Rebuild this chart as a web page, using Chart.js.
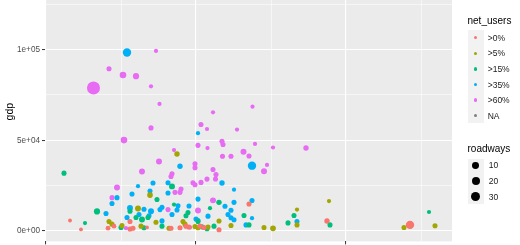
<!DOCTYPE html>
<html>
<head>
<meta charset="utf-8">
<script src="https://cdn.jsdelivr.net/npm/chart.js@4.4.0/dist/chart.umd.min.js"></script>
<style>
  html, body { margin:0; padding:0; width:520px; height:245px; overflow:hidden; background:#fff;
    font-family:"Liberation Sans", Arial, sans-serif; }
  #wrap { position:absolute; left:0; top:-24.9px; width:520px; height:300px; }
  .txt { position:absolute; white-space:nowrap; }
  .ttl { font-size:10px; color:#000; height:12px; line-height:12px; }
  .lab { font-size:8.5px; color:#1a1a1a; height:10px; line-height:10px; }
  .key { position:absolute; background:#f2f2f2; }
  .dot { position:absolute; border-radius:50%; }
</style>
</head>
<body>
<div id="wrap"><canvas id="c" width="520" height="300"></canvas></div>
<div id="legend"></div>
<script>
// net_users groups
const netUsers = ['>0%', '>5%', '>15%', '>35%', '>60%', 'NA'];
const netColors = ['#F8766D', '#A3A500', '#00BF7D', '#00B0F6', '#E76BF3', '#7F7F7F'];
const roadBreaks = [10, 20, 30];

// axis breaks (major + minor grid)
const yBreaks = [0, 50000, 100000];
const yLabels = ['0e+00', '5e+04', '1e+05'];
const yMinor = [25000, 75000, 125000];
const xBreaks = [0, 150, 300];
const xMinor = [75, 225, 375];

// >0%
const x0 = [24, 35, 62, 68, 84, 84, 87, 101, 125, 134, 140, 143, 154, 158, 173, 203, 281, 364];
const gdp0 = [5800, 900, 1600, 2700, 5300, 1100, 1500, 2000, 1500, 1800, 2600, 2200, 2700, 2000, 700, 14900, 5500, 3400];
const road0 = [0.5, 0.5, 2, 2, 3, 3, 3, 0.5, 3, 3, 3, 3, 3, 3, 3, 3, 4, 20];

// >5%
const x5 = [63, 66, 76, 92, 95, 104, 110, 123, 131, 137, 139, 149, 152, 162, 173, 185, 218, 227, 251, 251, 283, 358, 389];
const gdp5 = [5300, 3800, 3000, 12400, 2700, 19800, 4800, 1500, 42400, 5300, 3800, 2500, 1800, 2200, 5500, 3100, 2000, 1500, 11800, 3400, 16500, 2000, 2900];
const road5 = [3, 3, 3, 6, 3, 5, 3, 3, 4, 3, 3, 3, 3, 3, 3, 3, 3, 5, 1, 3, 1, 3, 3];

// >15%
const x15 = [18, 39, 51, 75, 84, 90, 96, 98, 102, 111, 116, 126, 128, 140, 142, 152, 156, 161, 164, 168, 173, 198, 203, 242, 248, 284, 383];
const gdp15 = [31900, 4400, 10800, 2000, 10900, 7500, 6400, 1800, 7500, 17400, 2700, 24600, 14600, 8400, 10200, 5300, 2300, 1300, 12600, 2700, 15800, 8600, 3400, 4500, 8600, 3400, 10500];
const road15 = [3, 1, 7, 3, 3, 3, 6, 3, 3, 3, 3, 6, 1, 3, 3, 3, 3, 3, 1, 3, 4, 3, 3, 3, 3, 3, 1];

// >35%
const x35 = [81, 152, 206, 134, 107, 122, 176, 92, 86, 104, 122, 188, 71, 66, 152, 188, 206, 132, 131, 143, 116, 114, 179, 185, 84, 98, 105, 60, 81, 93, 103, 116, 126, 150, 152, 162, 182, 185, 188, 200, 206, 251];
const gdp35 = [98300, 53900, 36000, 35700, 26500, 26600, 26500, 24700, 20400, 22000, 21000, 22800, 18400, 15200, 17600, 15800, 16800, 13900, 11600, 13800, 13100, 11800, 13700, 11500, 12700, 12000, 10900, 9700, 7500, 9100, 8400, 5600, 9100, 6600, 5800, 8200, 9100, 7300, 6200, 3400, 7100, 5300];
const road35 = [20, 1, 20, 4, 3, 3, 4, 1, 3, 3, 3, 1, 3, 3, 3, 3, 3, 3, 3, 3, 3, 3, 3, 3, 6, 3, 6, 3, 3, 3, 3, 3, 3, 3, 3, 3, 3, 3, 3, 3, 1, 3];

// >60%
const x60 = [63, 77, 90, 47.5, 105, 110, 113.5, 105, 78, 128, 167, 206.5, 155, 161, 191, 176, 177, 152, 161.5, 209, 197.5, 227, 260, 176.5, 185, 203, 221, 218, 113, 149, 149, 96, 167, 170, 169.5, 161, 126, 125, 147, 149, 155, 71, 66, 135, 134, 129, 167, 122, 152, 80, 144];
const gdp60 = [89400, 85900, 85300, 78800, 79700, 99200, 70000, 56800, 50100, 44600, 65400, 68500, 58700, 56200, 55900, 49500, 47700, 47200, 45700, 48000, 43700, 46000, 45700, 41200, 41200, 41300, 36400, 32900, 38300, 37000, 34900, 32800, 33900, 31100, 28700, 28600, 31500, 30000, 26600, 25500, 26800, 24000, 18400, 23100, 21300, 21300, 16900, 11800, 11300, 1600, 2000];
const road60 = [3, 9, 7, 70, 1, 1, 1, 3, 9, 1, 1, 1, 3, 1, 1, 3, 3, 3, 1, 1, 6, 1, 4, 3, 3, 3, 1, 6, 6, 3, 3, 6, 3, 3, 3, 3, 3, 3, 3, 3, 3, 6, 3, 3, 3, 3, 6, 3, 6, 1, 1];

const groups = [[x0, gdp0, road0], [x5, gdp5, road5], [x15, gdp15, road15], [x35, gdp35, road35], [x60, gdp60, road60]];

// area-ish size scale for roadways
const sizeOf = v => 1.5 + 0.6 * Math.sqrt(v);

const datasets = groups.map((g, i) => ({
  label: netUsers[i],
  data: g[0].map((x, j) => ({ x: x, y: g[1][j], road: g[2][j] })),
  backgroundColor: netColors[i],
  borderWidth: 0,
  pointRadius: ctx => ctx.raw ? sizeOf(ctx.raw.road) : 2,
  pointHoverRadius: ctx => ctx.raw ? sizeOf(ctx.raw.road) : 2
}));

const panelBg = {
  id: 'panelBg',
  beforeDraw(chart) {
    const a = chart.chartArea, ctx = chart.ctx;
    ctx.save();
    ctx.fillStyle = '#EBEBEB';
    ctx.fillRect(a.left, a.top, a.right - a.left, a.bottom - a.top);
    ctx.restore();
  }
};

const isMajorX = v => xBreaks.includes(v);
const isMajorY = v => yBreaks.includes(v);
const setTicks = list => s => { s.ticks = list.slice().sort((a, b) => a - b).map(v => ({ value: v })); };

new Chart(document.getElementById('c'), {
  type: 'scatter',
  data: { datasets },
  plugins: [panelBg],
  options: {
    responsive: false,
    animation: false,
    events: [],
    layout: { padding: { left: 0, right: 68, top: 0, bottom: 0 } },
    plugins: { legend: { display: false }, tooltip: { enabled: false } },
    scales: {
      x: {
        type: 'linear', min: -1, max: 406,
        afterBuildTicks: setTicks(xBreaks.concat(xMinor)),
        afterFit: s => { s.height = 33.6; },
        border: { display: false },
        grid: {
          color: '#FFFFFF',
          lineWidth: c => isMajorX(c.tick.value) ? 1.1 : 0.55,
          tickLength: 3, tickWidth: 1,
          tickColor: c => isMajorX(c.tick.value) ? '#333333' : 'rgba(0,0,0,0)'
        },
        ticks: { callback: () => '', font: { size: 8 } }
      },
      y: {
        type: 'linear', min: -5700, max: 137200,
        afterBuildTicks: setTicks(yBreaks.concat(yMinor)),
        afterFit: s => { s.width = 45; },
        border: { display: false },
        grid: {
          color: '#FFFFFF',
          lineWidth: c => isMajorY(c.tick.value) ? 1.1 : 0.55,
          tickLength: 3, tickWidth: 1,
          tickColor: c => isMajorY(c.tick.value) ? '#333333' : 'rgba(0,0,0,0)'
        },
        ticks: {
          padding: 2,
          color: '#4D4D4D',
          font: { family: '"Liberation Sans", Arial, sans-serif', size: 8.2 },
          callback: v => { const k = yBreaks.indexOf(v); return k >= 0 ? yLabels[k] : ''; }
        },
        title: {
          display: true, text: 'gdp', color: '#000',
          font: { family: '"Liberation Sans", Arial, sans-serif', size: 10.5 },
          padding: { top: 4, bottom: 0 }
        }
      }
    }
  }
});

// legend, built in html
const lg = document.getElementById('legend');
function add(cls, css, text) {
  const d = document.createElement('div');
  d.className = cls;
  Object.assign(d.style, css);
  if (text !== undefined) d.textContent = text;
  lg.appendChild(d);
}
add('txt ttl', { left: '467.5px', top: '15px' }, 'net_users');
add('key', { left: '468px', top: '29.5px', width: '15.5px', height: (netUsers.length * 15.6) + 'px' });
netUsers.forEach((n, i) => {
  const cy = 37.7 + i * 15.6;
  add('dot', { left: (475.7 - 1.8) + 'px', top: (cy - 1.8) + 'px', width: '3.6px', height: '3.6px', background: netColors[i] });
  add('txt lab', { left: '487.7px', top: (cy - 5) + 'px' }, n);
});
add('txt ttl', { left: '467.5px', top: '143px' }, 'roadways');
add('key', { left: '468px', top: '159.3px', width: '15.5px', height: '45px' });
roadBreaks.forEach((b, i) => {
  const cy = 165.3 + i * 15.7, r = sizeOf(b);
  add('dot', { left: (475.7 - r) + 'px', top: (cy - r) + 'px', width: 2 * r + 'px', height: 2 * r + 'px', background: '#000' });
  add('txt lab', { left: '488.7px', top: (cy - 5) + 'px' }, String(b));
});
</script>
</body>
</html>
